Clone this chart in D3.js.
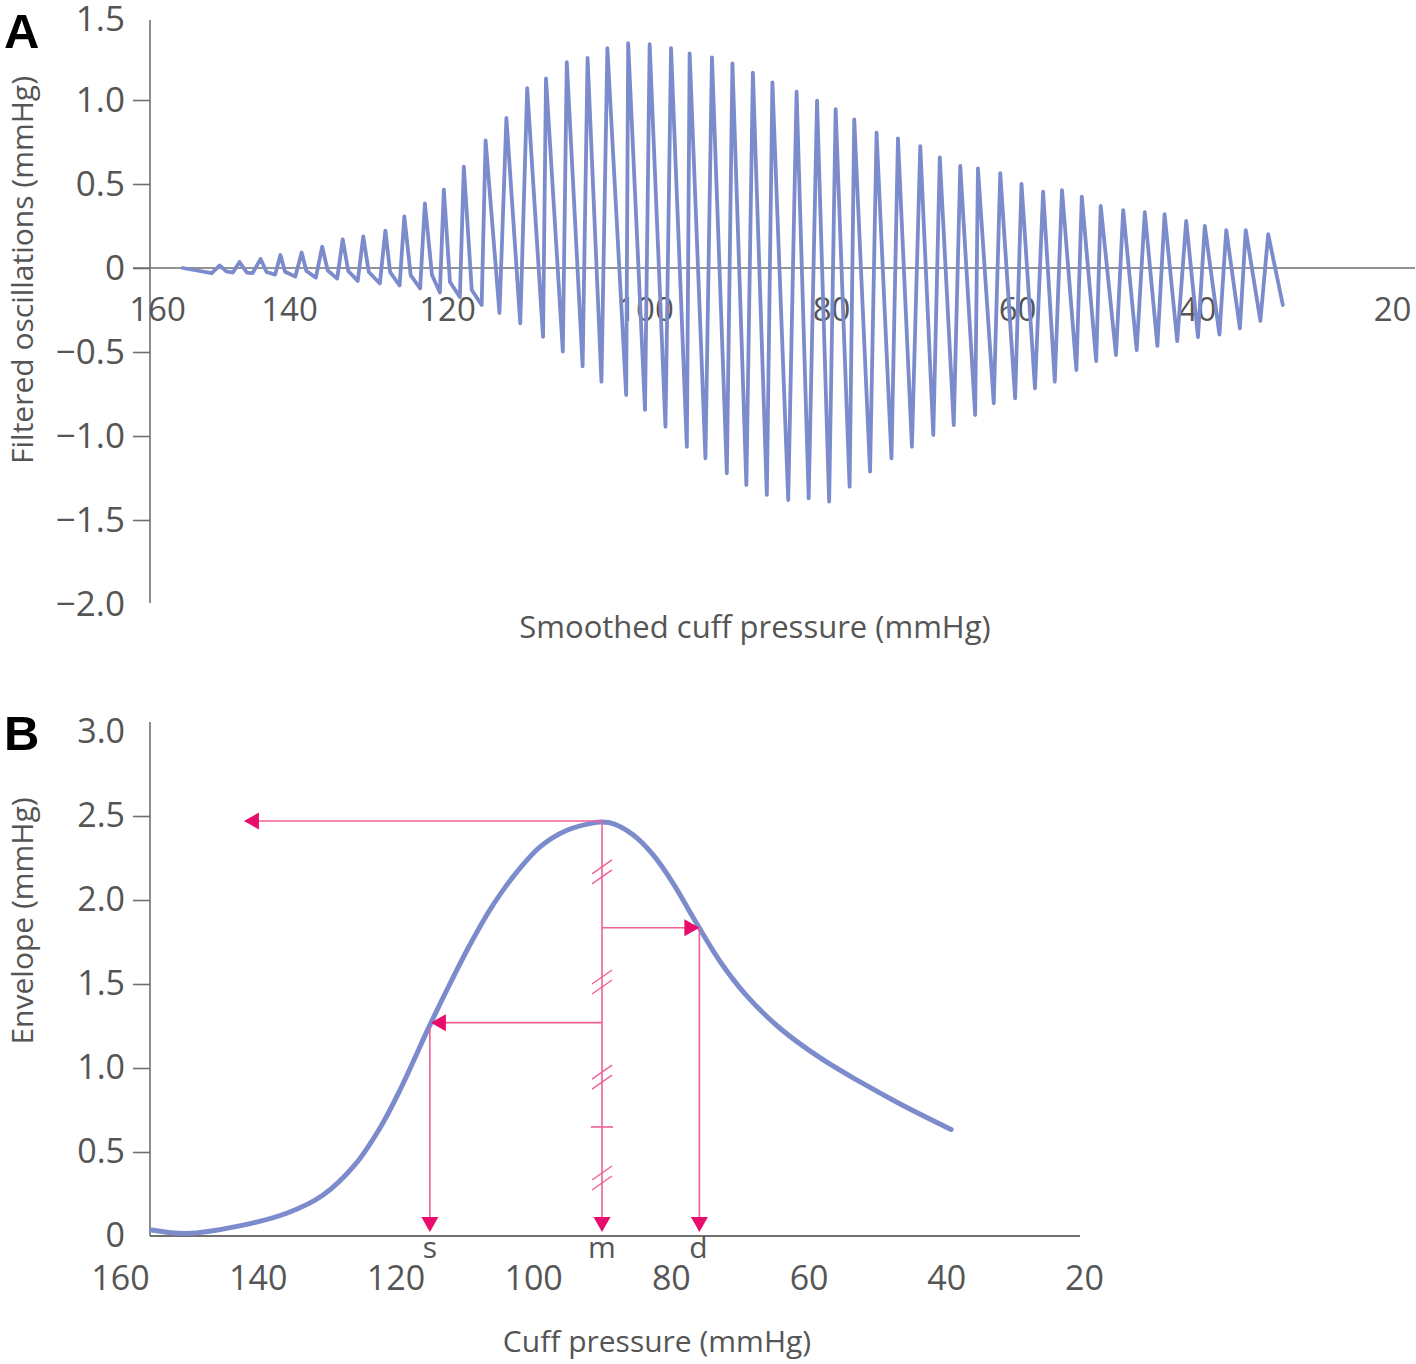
<!DOCTYPE html>
<html><head><meta charset="utf-8">
<script src="https://cdn.jsdelivr.net/npm/d3@7"></script>
<style>
body{margin:0;background:#fff}
svg{display:block}
text{font-family:'Open Sans',sans-serif;fill:#555}
</style>
</head><body>
<svg id="c" width="1416" height="1364"></svg>
<script>
// ---------- Panel A data: filtered oscillations vs smoothed cuff pressure ----------
const oscPressure = [156.1,151.7,
150.5,149.5,148.5, 147.5,146.4,145.5, 144.3,143.4,142.1, 141.3,140.6,139.2,
138.4,137.8,136.6, 135.8,135.1,133.9, 133.2,132.5,131.3, 130.6,129.9,128.5,
127.8,127.2,126.0, 125.4,124.6,123.4, 122.8,121.9,120.9, 120.4,119.7,118.7,
118.3,117.5,116.5,
116.1,114.7, 114.0,112.6, 111.9,110.3, 110.0,108.3, 107.9,106.3, 105.8,104.4,
103.8,101.9, 101.7,100.0, 99.5,97.8, 97.2,95.5, 95.2,93.5, 92.8,91.2,
90.6,89.1, 88.4,86.9, 86.3,84.6, 83.7,82.4, 81.5,80.2, 79.5,78.0,
77.5,75.8, 75.1,73.5, 72.8,71.3, 70.4,69.0, 68.3,66.8, 66.1,64.5,
64.2,62.5, 61.8,60.2, 59.5,58.0, 57.1,55.8, 55.0,53.4, 52.8,51.2,
50.7,49.0, 48.2,46.7, 45.8,44.4, 43.6,42.2, 41.2,39.9, 39.2,37.7,
37.0,35.6, 35.0,33.5, 32.7,31.2];
const oscValue = [0.0,-0.03,
0.015,-0.02,-0.027, 0.036,-0.027,-0.03, 0.054,-0.024,-0.039, 0.077,-0.022,-0.051,
0.092,-0.018,-0.057, 0.127,-0.015,-0.063, 0.171,-0.018,-0.077, 0.188,-0.024,-0.092,
0.223,-0.024,-0.104, 0.307,-0.042,-0.122, 0.385,-0.042,-0.146, 0.467,-0.083,-0.173,
0.604,-0.131,-0.22,
0.759,-0.268, 0.893,-0.33, 1.071,-0.41, 1.128,-0.497, 1.226,-0.586, 1.25,-0.677,
1.308,-0.756, 1.338,-0.845, 1.333,-0.945, 1.308,-1.064, 1.278,-1.133, 1.254,-1.222,
1.218,-1.292, 1.163,-1.351, 1.105,-1.381, 1.049,-1.371, 0.996,-1.391, 0.945,-1.302,
0.885,-1.212, 0.805,-1.133, 0.772,-1.064, 0.726,-0.994, 0.659,-0.935, 0.607,-0.875,
0.593,-0.805, 0.564,-0.776, 0.5,-0.716, 0.454,-0.677, 0.464,-0.607, 0.424,-0.554,
0.369,-0.518, 0.345,-0.488, 0.333,-0.464, 0.321,-0.435, 0.28,-0.411, 0.25,-0.396,
0.226,-0.36, 0.226,-0.315, 0.202,-0.22];
const aYTicks = [1.5,1.0,0.5,0,-0.5,-1.0,-1.5,-2.0];
const aXTicks = [160,140,120,100,80,60,40,20];

// ---------- Panel B data: envelope vs cuff pressure ----------
const envPressure = [155.4,150.3,143.0,135.7,130.5,125.9,122.2,119.3,115.0,112.1,109.2,106.3,102.9,99.0,95.1,91.6,90.0,88.2,85.5,82.6,79.6,76.9,72.9,69.2,64.2,58.3,52.5,46.7,39.3];
const envValue    = [0.036,0.015,0.057,0.137,0.244,0.423,0.646,0.872,1.255,1.50,1.732,1.940,2.139,2.316,2.415,2.456,2.464,2.452,2.388,2.270,2.095,1.905,1.637,1.440,1.238,1.060,0.917,0.786,0.634];
const bYTicks = [3.0,2.5,2.0,1.5,1.0,0.5,0];
const bXTicks = [160,140,120,100,80,60,40,20];
const markerNames = ["s","m","d"];
const markerPressure = [115,90,76];
const markerLevel = [1.27,2.47,1.835];
const peakArrowTo = 142;            // pressure where the horizontal arrow from the peak ends
const hashLevels = [2.167,1.512,0.946,0.345];
const singleTickLevels = [0.649];

// ---------- styles ----------
const lineColor = "#7c8bcb", axisColor = "#707070", pinkLine = "#ef5f98", pinkHead = "#e80c6c";

const svg = d3.select("#c");
const fmt = d => d === 0 ? "0" : d3.format(".1f")(d);

// ======================= Panel A =======================
const xA = d3.scaleLinear().domain(aXTicks).range([157,289,447,645,831,1017,1197,1392]);
const yA = d3.scaleLinear().domain([-2,1.5]).range([604,16]);

const gA = svg.append("g");
const yAxA = gA.append("g").attr("transform","translate(150,0)")
  .call(d3.axisLeft(yA).tickValues(aYTicks).tickSize(17).tickPadding(8).tickFormat(fmt));
yAxA.select(".domain").remove();
yAxA.selectAll(".tick line").attr("stroke",axisColor).attr("stroke-width",1.6)
  .attr("display", d => (d===1.5||d===-2) ? "none" : null);
yAxA.selectAll(".tick text").attr("font-size",35).attr("fill","#555").attr("font-family","'Open Sans',sans-serif")
  .attr("dy", d => d===1.5 ? "0.42em" : "0.32em");
gA.append("line").attr("x1",150).attr("x2",150).attr("y1",20).attr("y2",603)
  .attr("stroke",axisColor).attr("stroke-width",1.6);
gA.append("line").attr("x1",133).attr("x2",1415).attr("y1",yA(0)).attr("y2",yA(0))
  .attr("stroke",axisColor).attr("stroke-width",1.6);
const xAxA = gA.append("g").attr("transform",`translate(0,${yA(0)})`)
  .call(d3.axisBottom(xA).tickValues(aXTicks).tickSize(0).tickPadding(30).tickFormat(d3.format("d")));
xAxA.select(".domain").remove();
xAxA.selectAll(".tick text").attr("font-size",33).attr("fill","#555").attr("font-family","'Open Sans',sans-serif");

const oscData = oscPressure.map((p,i)=>({p, v: oscValue[i]}));
gA.append("path").datum(oscData)
  .attr("d", d3.line().x(d=>xA(d.p)).y(d=>yA(d.v)))
  .attr("fill","none").attr("stroke",lineColor).attr("stroke-width",3.8)
  .attr("stroke-linejoin","round").attr("stroke-linecap","round");

gA.append("text").attr("x",755).attr("y",638).attr("text-anchor","middle")
  .attr("font-size",31).text("Smoothed cuff pressure (mmHg)");
gA.append("text").attr("transform","translate(33,270) rotate(-90)").attr("text-anchor","middle")
  .attr("font-size",30).text("Filtered oscillations (mmHg)");
svg.append("text").attr("x",4).attr("y",48).attr("font-size",49).attr("font-weight","bold")
  .style("font-family","'Liberation Sans',Arial,sans-serif").style("fill","#000").text("A");

// ======================= Panel B =======================
const xB = d3.scaleLinear().domain([160,20]).range([120,1084]);
const yB = d3.scaleLinear().domain([0,3]).range([1236,732]);
const gB = svg.append("g");

const yAxB = gB.append("g").attr("transform","translate(150,0)")
  .call(d3.axisLeft(yB).tickValues(bYTicks).tickSize(17).tickPadding(8).tickFormat(fmt));
yAxB.select(".domain").remove();
yAxB.selectAll(".tick line").attr("stroke",axisColor).attr("stroke-width",1.6)
  .attr("display", d => (d===3||d===0) ? "none" : null);
yAxB.selectAll(".tick text").attr("font-size",34).attr("fill","#555").attr("font-family","'Open Sans',sans-serif");
gB.append("line").attr("x1",150).attr("x2",150).attr("y1",722).attr("y2",yB(0))
  .attr("stroke",axisColor).attr("stroke-width",1.6);
gB.append("line").attr("x1",150).attr("x2",1080).attr("y1",yB(0)).attr("y2",yB(0))
  .attr("stroke",axisColor).attr("stroke-width",1.8);
const xAxB = gB.append("g").attr("transform",`translate(0,${yB(0)})`)
  .call(d3.axisBottom(xB).tickValues(bXTicks).tickSize(0).tickPadding(30).tickFormat(d3.format("d")));
xAxB.select(".domain").remove();
xAxB.selectAll(".tick text").attr("font-size",34).attr("fill","#555").attr("font-family","'Open Sans',sans-serif");

const envData = envPressure.map((p,i)=>({p, v: envValue[i]}));
gB.append("path").datum(envData)
  .attr("d", d3.line().x(d=>xB(d.p)).y(d=>yB(d.v)).curve(d3.curveCatmullRom.alpha(0.5)))
  .attr("fill","none").attr("stroke",lineColor).attr("stroke-width",5)
  .attr("stroke-linecap","round");

const ann = gB.append("g");
function seg(x1,y1,x2,y2){
  ann.append("line").attr("x1",x1).attr("y1",y1).attr("x2",x2).attr("y2",y2)
    .attr("stroke",pinkLine).attr("stroke-width",1.6);
}
function head(x,y,dir){
  const L=15, W=8.5; let pts;
  if(dir==="left")  pts=[[x,y],[x+L,y-W],[x+L,y+W]];
  if(dir==="right") pts=[[x,y],[x-L,y-W],[x-L,y+W]];
  if(dir==="down")  pts=[[x,y],[x-W,y-L],[x+W,y-L]];
  ann.append("path").attr("d","M"+pts.map(p=>p.join(",")).join("L")+"Z").attr("fill",pinkHead);
}
const mx = xB(markerPressure[1]), my = yB(markerLevel[1]);
const baseTip = yB(0) - 4;
seg(mx,my,xB(peakArrowTo)+6,my); head(xB(peakArrowTo),my,"left");
seg(mx,my,mx,baseTip-6); head(mx,baseTip,"down");
const sx = xB(markerPressure[0]), sy = yB(markerLevel[0]);
seg(mx,sy,sx+8,sy); head(sx+1,sy,"left");
seg(sx,sy+4,sx,baseTip-6); head(sx,baseTip,"down");
const dx = xB(markerPressure[2]), dy = yB(markerLevel[2]);
seg(mx,dy,dx-8,dy); head(dx+1,dy,"right");
seg(dx+1,dy,dx+1,baseTip-6); head(dx+1,baseTip,"down");
hashLevels.forEach(v=>{
  const y=yB(v);
  [-5,5].forEach(o=>{
    ann.append("line").attr("x1",mx-10).attr("y1",y+o+7).attr("x2",mx+10).attr("y2",y+o-7)
      .attr("stroke",pinkLine).attr("stroke-width",1.4);
  });
});
singleTickLevels.forEach(v=>{
  const y=yB(v);
  ann.append("line").attr("x1",mx-11).attr("x2",mx+11).attr("y1",y).attr("y2",y)
    .attr("stroke",pinkLine).attr("stroke-width",1.6);
});
gB.selectAll("text.mk").data(markerNames).join("text").attr("class","mk")
  .attr("x",(d,i)=>xB(markerPressure[i])).attr("y",1258).attr("text-anchor","middle")
  .attr("font-size",30).text(d=>d);

gB.append("text").attr("x",657).attr("y",1352).attr("text-anchor","middle")
  .attr("font-size",30).text("Cuff pressure (mmHg)");
gB.append("text").attr("transform","translate(33,921) rotate(-90)").attr("text-anchor","middle")
  .attr("font-size",30).text("Envelope (mmHg)");
svg.append("text").attr("x",4).attr("y",750).attr("font-size",49).attr("font-weight","bold")
  .style("font-family","'Liberation Sans',Arial,sans-serif").style("fill","#000").text("B");
</script>
</body></html>
